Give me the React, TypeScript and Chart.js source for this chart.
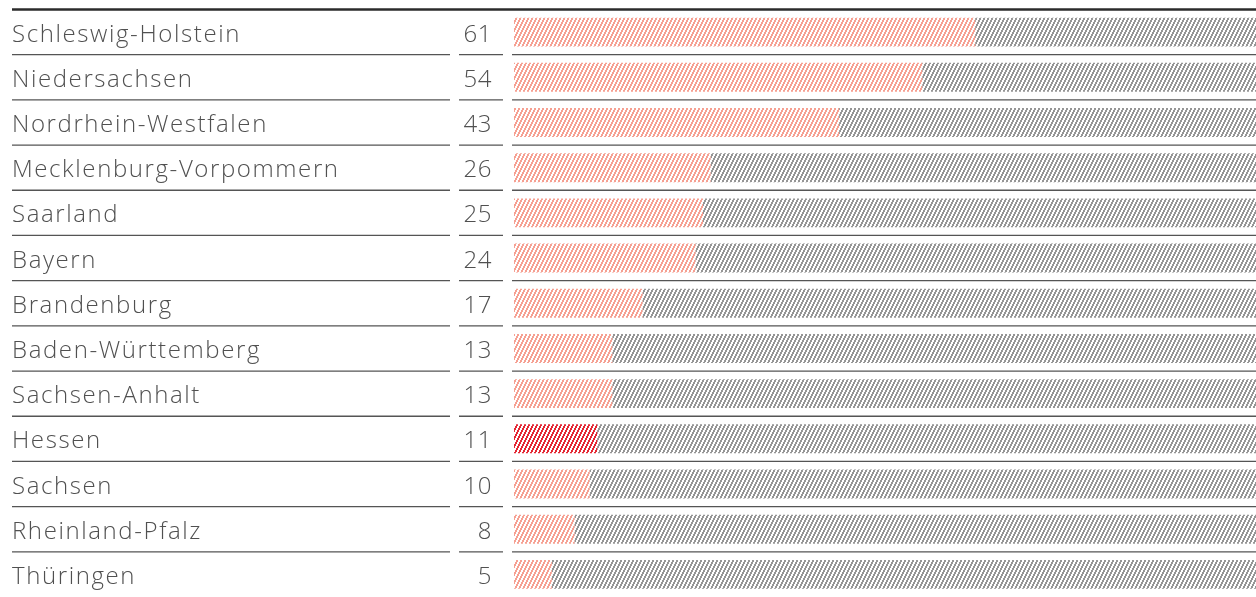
import React, { useEffect, useRef } from "react";
import { Chart, registerables } from "chart.js";

Chart.register(...registerables);

const states = [
  "Schleswig-Holstein",
  "Niedersachsen",
  "Nordrhein-Westfalen",
  "Mecklenburg-Vorpommern",
  "Saarland",
  "Bayern",
  "Brandenburg",
  "Baden-Württemberg",
  "Sachsen-Anhalt",
  "Hessen",
  "Sachsen",
  "Rheinland-Pfalz",
  "Thüringen",
];
const values = [61, 54, 43, 26, 25, 24, 17, 13, 13, 11, 10, 8, 5];
const highlighted = "Hessen";
const total = 100;
const remainder = values.map((v) => total - v);

function makePattern(color: string): CanvasPattern | string {
  const c = document.createElement("canvas");
  c.width = 4;
  c.height = 8;
  const ctx = c.getContext("2d");
  if (!ctx) return color;
  ctx.fillStyle = color;
  for (let y = 0; y < 8; y++) {
    for (let x = 0; x < 4; x++) {
      if ((x + Math.floor(y / 2)) % 4 < 2) ctx.fillRect(x, y, 1, 1);
    }
  }
  return ctx.createPattern(c, "repeat") || color;
}

const FONT = "300 24px 'Open Sans', Lato, sans-serif";

const tablePlugin = {
  id: "tablePlugin",
  afterDraw(chart: any) {
    const ctx = chart.ctx as CanvasRenderingContext2D;
    const y = chart.scales.y;
    const W = chart.width;
    ctx.save();
    const top = y.getPixelForValue(-0.5);
    ctx.strokeStyle = "#2b2b2b";
    ctx.lineWidth = 2.5;
    ctx.beginPath();
    ctx.moveTo(12, top);
    ctx.lineTo(W, top);
    ctx.stroke();
    ctx.strokeStyle = "#555";
    ctx.lineWidth = 1.3;
    for (let i = 0; i < states.length - 1; i++) {
      const yb = y.getPixelForValue(i + 0.5);
      ctx.beginPath();
      ctx.moveTo(12, yb);
      ctx.lineTo(450, yb);
      ctx.moveTo(459, yb);
      ctx.lineTo(503, yb);
      ctx.moveTo(512, yb);
      ctx.lineTo(W, yb);
      ctx.stroke();
    }
    ctx.font = FONT;
    (ctx as any).letterSpacing = "1.6px";
    ctx.fillStyle = "#505050";
    ctx.textBaseline = "alphabetic";
    for (let i = 0; i < states.length; i++) {
      const yc = y.getPixelForValue(i) + 9.5;
      ctx.textAlign = "left";
      ctx.fillText(states[i], 12, yc);
    }
    (ctx as any).letterSpacing = "0.5px";
    for (let i = 0; i < states.length; i++) {
      const yc = y.getPixelForValue(i) + 9.5;
      ctx.textAlign = "right";
      ctx.fillText(String(values[i]), 492, yc);
    }
    ctx.restore();
  },
};

export default function App() {
  const ref = useRef<HTMLCanvasElement>(null);
  useEffect(() => {
    if (!ref.current) return;
    const red = makePattern("rgb(246,160,146)");
    const darkRed = makePattern("rgb(228,40,52)");
    const gray = makePattern("rgb(150,150,150)");
    const chart = new Chart(ref.current, {
      type: "bar",
      data: {
        labels: states,
        datasets: [
          {
            data: values,
            backgroundColor: states.map((s) => (s === highlighted ? darkRed : red)) as any,
            borderWidth: 0,
            barPercentage: 0.64,
            categoryPercentage: 1,
          },
          {
            data: remainder,
            backgroundColor: gray as any,
            borderWidth: 0,
            barPercentage: 0.64,
            categoryPercentage: 1,
          },
        ],
      },
      options: {
        indexAxis: "y",
        responsive: false,
        animation: false,
        layout: { padding: { left: 514, right: 0, top: 9.5, bottom: 0 } },
        scales: {
          x: { display: false, stacked: true, min: 0, max: 98.15 },
          y: { display: false, stacked: true },
        },
        plugins: { legend: { display: false }, tooltip: { enabled: false } },
      },
      plugins: [tablePlugin],
    });
    return () => chart.destroy();
  }, []);
  return (
    <div style={{ position: "fixed", left: 0, top: 0, width: 1256, height: 597, background: "#fff" }}>
      <canvas ref={ref} width={1256} height={597} />
    </div>
  );
}
